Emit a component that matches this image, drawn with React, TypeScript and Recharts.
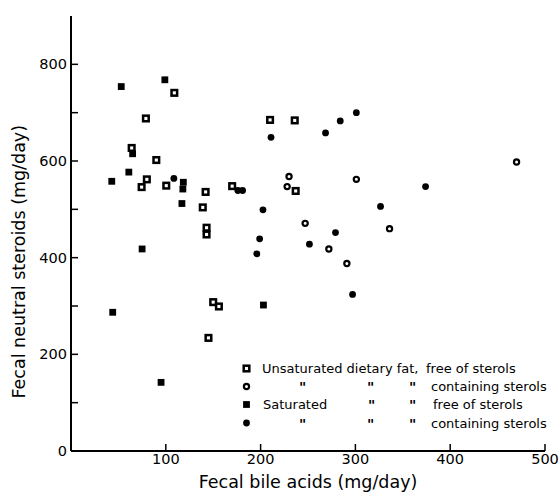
import React from 'react';
import { ScatterChart, Scatter, XAxis, YAxis, Legend, Label } from 'recharts';

// Unsaturated dietary fat, free of sterols (open squares)
const unsatFree: [number, number][] = [
  [109, 741], [79, 688], [64, 627], [90, 602], [80, 562], [74.5, 546], [100.5, 549],
  [142, 536], [139, 504], [143, 462], [143, 448], [170, 548], [210, 685], [236, 684],
  [237, 538], [150, 308], [156, 299], [145, 234],
];
// Unsaturated dietary fat, containing sterols (open circles)
const unsatSterols: [number, number][] = [
  [230, 568], [228, 547], [301, 562], [470, 598], [247, 471], [336, 460], [272, 418], [291, 388],
];
// Saturated, free of sterols (filled squares)
const satFree: [number, number][] = [
  [53, 754], [99, 768], [65, 615], [61, 577], [43, 558], [118.5, 556], [118, 542],
  [117, 512], [75, 418], [203, 302], [44, 287], [95, 142],
];
// Saturated, containing sterols (filled circles)
const satSterols: [number, number][] = [
  [108.5, 564], [176, 539], [181, 539], [211, 649], [202.5, 499], [199, 439], [196, 408],
  [268.5, 658], [284, 683], [301, 700], [374, 547], [326.5, 506], [279, 452], [251.5, 428], [297, 324],
];

const xTicks = [100, 200, 300, 400, 500];
const yTicks = [0, 100, 200, 300, 400, 500, 600, 700, 800];
const yLabeled = [0, 200, 400, 600, 800];

const xTitle = 'Fecal bile acids (mg/day)';
const yTitle = 'Fecal neutral steroids (mg/day)';

const legendRows = [
  { shape: 'openSquare', parts: [{ t: 'Unsaturated dietary fat,', x: 26 }, { t: 'free of sterols', x: 190 }] },
  { shape: 'openCircle', parts: [{ t: '"', x: 63 }, { t: '"', x: 131 }, { t: '"', x: 173 }, { t: 'containing sterols', x: 195 }] },
  { shape: 'filledSquare', parts: [{ t: 'Saturated', x: 27 }, { t: '"', x: 132 }, { t: '"', x: 173 }, { t: 'free of sterols', x: 197 }] },
  { shape: 'filledCircle', parts: [{ t: '"', x: 63 }, { t: '"', x: 131 }, { t: '"', x: 173 }, { t: 'containing sterols', x: 195 }] },
];

const FONT = '"DejaVu Sans", sans-serif';

const toPts = (arr: [number, number][]) => arr.map(([x, y]) => ({ x, y }));

const marker = (kind: string, cx: number, cy: number) => {
  switch (kind) {
    case 'openSquare':
      return <rect x={cx - 2.8} y={cy - 2.8} width={5.6} height={5.6} fill="#fff" stroke="#000" strokeWidth={2.5} />;
    case 'openCircle':
      return <circle cx={cx} cy={cy} r={2.6} fill="#fff" stroke="#000" strokeWidth={2.2} />;
    case 'filledSquare':
      return <rect x={cx - 3.4} y={cy - 3.4} width={6.8} height={6.8} fill="#000" />;
    default:
      return <circle cx={cx} cy={cy} r={3.4} fill="#000" />;
  }
};

const mkShape = (kind: string) => (props: any) => {
  const { cx, cy } = props;
  if (cx == null || cy == null) return <g />;
  return marker(kind, cx, cy);
};

const XTick = (props: any) => {
  const { x, y, payload } = props;
  return (
    <g>
      <line x1={x} y1={y} x2={x} y2={y - 7} stroke="#000" strokeWidth={1.5} />
      <text x={x} y={y + 13} textAnchor="middle" fontFamily={FONT} fontSize={14.5} fill="#000">
        {payload.value}
      </text>
    </g>
  );
};

const YTick = (props: any) => {
  const { x, y, payload } = props;
  return (
    <g>
      <line x1={x} y1={y} x2={x + 7} y2={y} stroke="#000" strokeWidth={1.5} />
      {yLabeled.includes(payload.value) ? (
        <text x={x - 4} y={y + 5} textAnchor="end" fontFamily={FONT} fontSize={14.5} fill="#000">
          {payload.value}
        </text>
      ) : null}
    </g>
  );
};

const XTitle = (props: any) => {
  const vb = props.viewBox || { x: 71, y: 451, width: 474, height: 42 };
  return (
    <text x={vb.x + vb.width / 2} y={vb.y + 37} textAnchor="middle" fontFamily={FONT} fontSize={17.5} fill="#000">
      {xTitle}
    </text>
  );
};

const YTitle = (props: any) => {
  const vb = props.viewBox || { x: 0, y: 16, width: 71, height: 435 };
  const cx = vb.x + 25;
  const cy = vb.y + vb.height * 0.565;
  return (
    <text x={cx} y={cy} transform={`rotate(-90 ${cx} ${cy})`} textAnchor="middle" fontFamily={FONT} fontSize={17.5} fill="#000">
      {yTitle}
    </text>
  );
};

const rowY = [13.5, 31.5, 49.5, 68];

const LegendContent = () => (
  <svg width={320} height={80} style={{ display: 'block', opacity: 0.999 }}>
    {legendRows.map((row, i) => (
      <g key={i}>
        {marker(row.shape, 10.5, rowY[i])}
        {row.parts.map((p, j) => (
          <text
            key={j}
            x={p.x}
            y={rowY[i] + (p.t === '"' ? 5.5 : 4.5)}
            fontFamily={FONT}
            fontSize={p.t === '"' ? 14 : 13}
            fontWeight={p.t === '"' ? 'bold' : 'normal'}
            fill="#000"
          >
            {p.t}
          </text>
        ))}
      </g>
    ))}
  </svg>
);

export default function App() {
  return (
    <div style={{ position: 'absolute', left: 0, top: 0, width: 560, height: 493, background: '#fff' }}>
      <ScatterChart width={560} height={493} margin={{ top: 16, right: 15, bottom: 0, left: 0 }}>
        <XAxis
          type="number"
          dataKey="x"
          domain={[0, 500]}
          ticks={xTicks}
          interval={0}
          tickSize={0}
          tickMargin={0}
          tickLine={false}
          tick={XTick}
          height={42}
          axisLine={{ stroke: '#000', strokeWidth: 2 }}
        >
          <Label content={XTitle} />
        </XAxis>
        <YAxis
          type="number"
          dataKey="y"
          domain={[0, 900]}
          ticks={yTicks}
          interval={0}
          tickSize={0}
          tickMargin={0}
          tickLine={false}
          tick={YTick}
          width={71}
          axisLine={{ stroke: '#000', strokeWidth: 2 }}
        >
          <Label content={YTitle} />
        </YAxis>
        <Legend
          layout="horizontal"
          verticalAlign="middle"
          align="center"
          content={LegendContent}
          wrapperStyle={{ left: 236, top: 355, width: 320, height: 80 }}
        />
        <Scatter name="Unsaturated, free of sterols" data={toPts(unsatFree)} shape={mkShape('openSquare')} isAnimationActive={false} />
        <Scatter name="Unsaturated, containing sterols" data={toPts(unsatSterols)} shape={mkShape('openCircle')} isAnimationActive={false} />
        <Scatter name="Saturated, free of sterols" data={toPts(satFree)} shape={mkShape('filledSquare')} isAnimationActive={false} />
        <Scatter name="Saturated, containing sterols" data={toPts(satSterols)} shape={mkShape('filledCircle')} isAnimationActive={false} />
      </ScatterChart>
    </div>
  );
}
